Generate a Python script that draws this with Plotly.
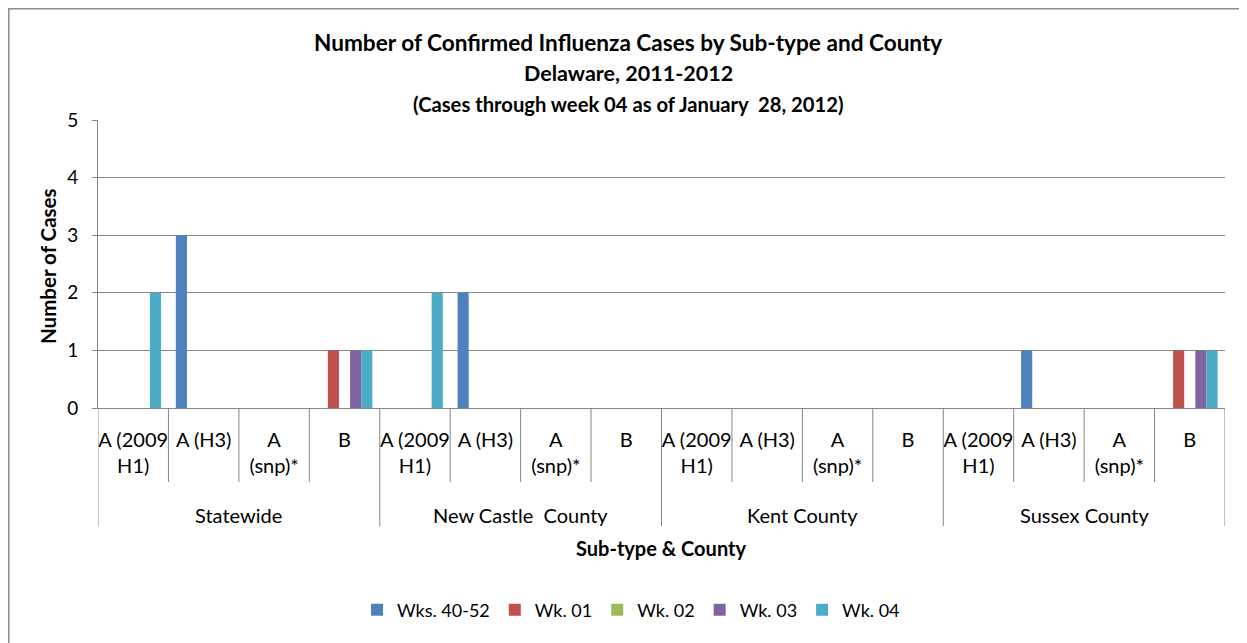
import plotly.graph_objects as go

# ---------------- data ----------------
counties = ["Statewide", "New Castle  County", "Kent County", "Sussex County"]
subtypes = ["A (2009<br>H1)", "A (H3)", "A<br>(snp)*", "B"]
series_names = ["Wks. 40-52", "Wk. 01", "Wk. 02", "Wk. 03", "Wk. 04"]
series_colors = ["#4F81BD", "#C0504D", "#9BBB59", "#8064A2", "#4BACC6"]

# values per category: order = county-major, subtype-minor (16 categories)
wks_40_52 = [0, 3, 0, 0,  0, 2, 0, 0,  0, 0, 0, 0,  0, 1, 0, 0]
wk_01     = [0, 0, 0, 1,  0, 0, 0, 0,  0, 0, 0, 0,  0, 0, 0, 1]
wk_02     = [0, 0, 0, 0,  0, 0, 0, 0,  0, 0, 0, 0,  0, 0, 0, 0]
wk_03     = [0, 0, 0, 1,  0, 0, 0, 0,  0, 0, 0, 0,  0, 0, 0, 1]
wk_04     = [2, 0, 0, 1,  2, 0, 0, 0,  0, 0, 0, 0,  0, 0, 0, 1]
series_values = [wks_40_52, wk_01, wk_02, wk_03, wk_04]

y_ticks = [0, 1, 2, 3, 4, 5]

# ---------------- layout helpers (page pixel coordinates) ----------------
W, H = 1247, 643
OFF = 8  # default page body margin
L, R, T, B = 98, 1225, 120, 408
PW, PH = R - L, B - T


def px(xp):
    return (xp - L) / PW


def py(yp):
    return (B - yp) / PH


FONT = "Lato"
GRID = "#868686"

n_sub = len(subtypes)
n_cat = len(counties) * n_sub
x_pos = list(range(n_cat))
tick_text = [subtypes[i % n_sub] for i in range(n_cat)]

fig = go.Figure()
for name, color, vals in zip(series_names, series_colors, series_values):
    fig.add_trace(go.Bar(x=x_pos, y=vals, name=name,
                         marker=dict(color=color, line=dict(width=0))))

shapes = []
# category dividers (short) and county dividers (long)
for i in range(n_cat + 1):
    xb = i - 0.5
    long_ = (i % n_sub == 0)
    shapes.append(dict(type="line", xref="x", yref="paper", x0=xb, x1=xb,
                       y0=0, y1=py(526 if long_ else 482),
                       line=dict(color=GRID, width=1)))
# outer chart border
shapes.append(dict(type="rect", xref="paper", yref="paper",
                   x0=px(8.8), x1=px(1260), y0=py(660), y1=py(8.8),
                   line=dict(color="#8C8C8C", width=1.5), fillcolor="rgba(0,0,0,0)", layer="below"))

annotations = []
for ci, c in enumerate(counties):
    annotations.append(dict(text=c, xref="x", yref="paper", x=ci * n_sub + (n_sub - 1) / 2,
                            y=py(515), yanchor="middle", xanchor="center", showarrow=False,
                            font=dict(family=FONT, size=20, color="#000")))
annotations.append(dict(text="<b>Sub-type & County</b>", xref="paper", yref="paper", x=px(661), y=py(548),
                        yanchor="middle", xanchor="center", showarrow=False,
                        font=dict(family=FONT, size=20, color="#000")))
annotations.append(dict(text="<b>Number of Cases</b>", xref="paper", yref="paper", x=px(48), y=py(266),
                        yanchor="middle", xanchor="center", showarrow=False, textangle=-90,
                        font=dict(family=FONT, size=20.5, color="#000")))
title_lines = [
    ("<b>Number of Confirmed Influenza Cases by Sub-type and County</b>", 42, 22.6),
    ("<b>Delaware, 2011-2012</b>", 73, 21.5),
    ("<b>(Cases through week 04 as of January  28, 2012)</b>", 104, 20.2),
]
for txt, yp, fs in title_lines:
    annotations.append(dict(text=txt, xref="paper", yref="paper", x=px(628), y=py(yp),
                            yanchor="middle", xanchor="center", showarrow=False,
                            font=dict(family=FONT, size=fs, color="#000")))

fig.update_layout(
    width=W - OFF, height=H - OFF,
    margin=dict(l=L - OFF, r=W - R, t=T - OFF, b=H - B, autoexpand=False),
    paper_bgcolor="white", plot_bgcolor="white",
    barmode="group", bargap=0.21, bargroupgap=0,
    font=dict(family=FONT, color="#000"),
    showlegend=True,
    legend=dict(orientation="h", x=px(631), xanchor="center", y=py(610), yanchor="middle",
                font=dict(family=FONT, size=18, color="#000"), itemclick=False,
                traceorder="normal", bgcolor="rgba(0,0,0,0)", itemwidth=30),
    xaxis=dict(range=[-0.5, n_cat - 0.5], tickmode="array", tickvals=x_pos, ticktext=tick_text,
               showgrid=False, zeroline=False, showline=True, linecolor=GRID, linewidth=1,
               ticks="", tickfont=dict(family=FONT, size=20, color="#000"), ticklabelstandoff=14),
    yaxis=dict(range=[0, 5], tickmode="array", tickvals=y_ticks, showgrid=True, gridcolor=GRID,
               gridwidth=1, zeroline=False, showline=True, linecolor=GRID, linewidth=1,
               ticks="outside", ticklen=5, tickcolor=GRID,
               tickfont=dict(family=FONT, size=19, color="#000"), ticklabelstandoff=10),
    shapes=shapes,
    annotations=annotations,
)

fig.write_html("out.html")
